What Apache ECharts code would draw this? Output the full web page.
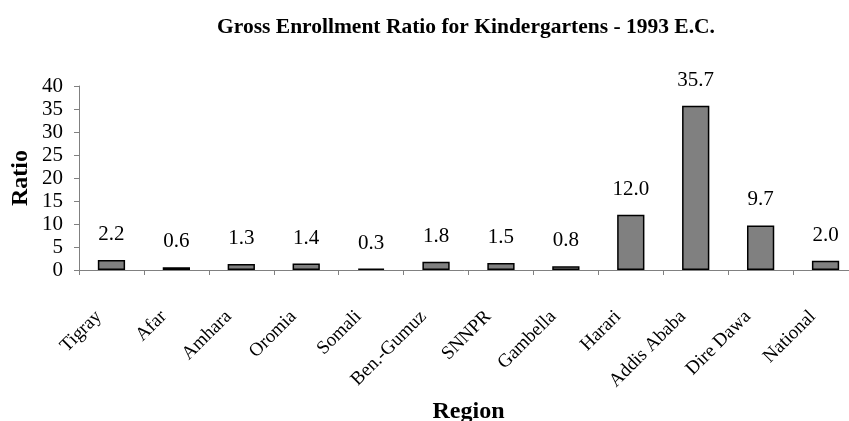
<!DOCTYPE html>
<html>
<head>
<meta charset="utf-8">
<script src="https://cdn.jsdelivr.net/npm/echarts@6/dist/echarts.min.js"></script>
<style>html,body{margin:0;padding:0;background:#fff}#c{width:849px;height:421px}</style>
</head>
<body>
<div id="c"></div>
<script>
const titleText = 'Gross Enrollment Ratio for Kindergartens - 1993 E.C.';
const categories = ['Tigray','Afar','Amhara','Oromia','Somali','Ben.-Gumuz','SNNPR','Gambella','Harari','Addis Ababa','Dire Dawa','National'];
const ratioValues = [2.2, 0.6, 1.3, 1.4, 0.3, 1.8, 1.5, 0.8, 12.0, 35.7, 9.7, 2.0];
const yTicks = [0, 5, 10, 15, 20, 25, 30, 35, 40];
const FONT = '"Liberation Serif","Times New Roman",serif';

const chart = echarts.init(document.getElementById('c'), null, {renderer: 'canvas'});
chart.setOption({
  animation: false,
  backgroundColor: '#fff',
  title: {
    text: titleText, left: 461, top: 11, textAlign: 'center',
    textStyle: {fontFamily: FONT, fontWeight: 'bold', fontSize: 21.5, color: '#000'}
  },
  grid: {left: 79, right: -9, top: 86, bottom: 151, containLabel: false, outerBoundsMode: 'none'},
  xAxis: {
    type: 'category', data: categories,
    name: 'Region', nameLocation: 'middle', nameGap: 130, nameMoveOverlap: false,
    nameTextStyle: {fontFamily: FONT, fontWeight: 'bold', fontSize: 24, color: '#000'},
    axisLine: {lineStyle: {color: '#808080', width: 1}},
    axisTick: {show: true, alignWithLabel: false, length: 5, lineStyle: {color: '#808080'}},
    axisLabel: {rotate: 45, interval: 0, margin: 31, padding: [0, 18, 0, 0], fontFamily: FONT, fontSize: 19, color: '#000'}
  },
  yAxis: {
    type: 'value', min: yTicks[0], max: yTicks[yTicks.length - 1], interval: 5,
    name: 'Ratio', nameLocation: 'middle', nameGap: 46, nameRotate: 90, nameMoveOverlap: false,
    nameTextStyle: {fontFamily: FONT, fontWeight: 'bold', fontSize: 24, color: '#000'},
    axisLine: {show: true, lineStyle: {color: '#808080', width: 1}},
    axisTick: {show: true, length: 5, lineStyle: {color: '#808080'}},
    splitLine: {show: false},
    axisLabel: {margin: 16, fontFamily: FONT, fontSize: 21, color: '#000'}
  },
  series: [{
    type: 'bar', data: ratioValues, barWidth: '42%',
    itemStyle: {color: '#808080', borderColor: '#000', borderWidth: 1.5},
    label: {
      show: true, position: 'top', distance: 15,
      formatter: p => p.value.toFixed(1),
      fontFamily: FONT, fontSize: 21, color: '#000'
    }
  }]
});
</script>
</body>
</html>
